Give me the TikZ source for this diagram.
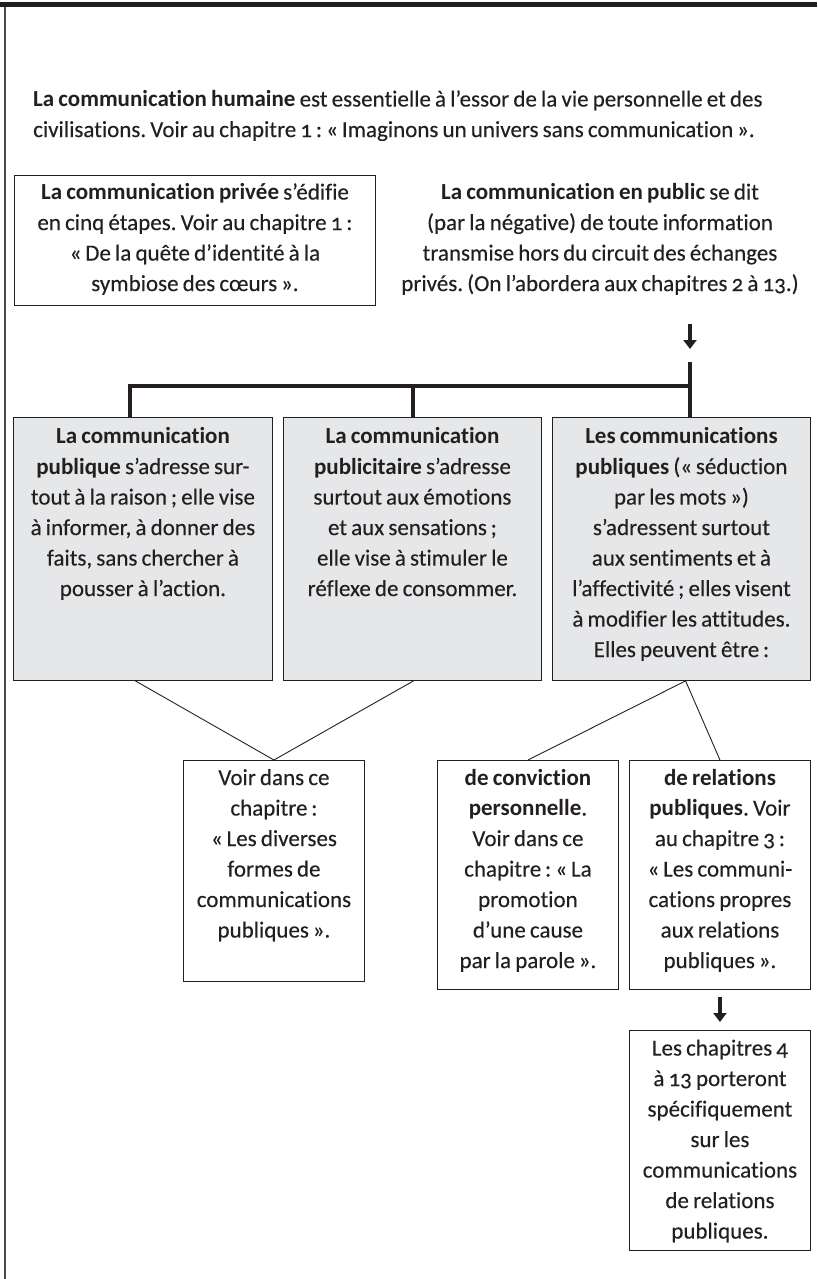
\documentclass[tikz,border=0pt]{standalone}
\usepackage{fontspec}
\setmainfont{Carlito}[Numbers=OldStyle, Ligatures=NoCommon, WordSpace=0.8,
  UprightFeatures={FakeBold=0.25}]
\usetikzlibrary{arrows.meta,calc}
\definecolor{ink}{HTML}{231F20}
\definecolor{boxgray}{HTML}{E6E7E8}
\definecolor{rule}{HTML}{4A4A4A}
\frenchspacing
\begin{document}
\begin{tikzpicture}[x=1pt,y=-1pt,
  every node/.style={font=\fontsize{23}{30.5}\selectfont, text=ink, inner sep=0pt},
  frame/.style={draw=ink, line width=0.9pt, anchor=north west},
  graybox/.style={frame, fill=boxgray},
  boxtext/.style={anchor=north, align=center},
  branch/.style={draw=ink, line width=4pt},
  link/.style={draw=ink, line width=0.9pt},
  downarrow/.style={draw=ink, line width=3.2pt, -{Triangle[length=9pt,width=13pt]}}
]
\useasboundingbox (0,0) rectangle (817,1279);
% page frame: heavy rule on top, thin rule on the left
\fill[ink] (0,2) rectangle (817,7);
\draw[rule, line width=1.6pt] (5,7) -- (5,1279);

% introduction
\node[anchor=north west, align=left] (intro) at (33,85)
  {\strut\textbf{La communication humaine} est essentielle à l’essor de la vie personnelle et des\\
   civilisations. Voir au chapitre 1\,: «\,Imaginons un univers sans communication\,».};

% private communication
\node[frame, minimum width=361, minimum height=130] (priv) at (14,175) {};
\node[boxtext] (privt) at ([yshift=-3pt]priv.north)
  {\strut\textbf{La communication privée} s’édifie\\
   en cinq étapes. Voir au chapitre 1\,:\\
   «\,De la quête d’identité à la\\
   symbiose des cœurs\,».};

% communication in public
\node[boxtext] (pub) at (600,178)
  {\strut\textbf{La communication en public} se dit\\
   (par la négative) de toute information\\
   transmise hors du circuit des échanges\\
   privés. (On l’abordera aux chapitres 2 à 13.)};

\coordinate (a1s) at (690,324);
\coordinate (a1e) at (690,349);
\draw[downarrow] (a1s) -- (a1e);

% three kinds of public communication
\node[graybox, minimum width=259, minimum height=263] (g1) at (13,417) {};
\node[graybox, minimum width=258, minimum height=263] (g2) at (283,417) {};
\node[graybox, minimum width=258, minimum height=263] (g3) at (552,417) {};

\node[boxtext] (g1t) at ([yshift=-5pt]g1.north)
  {\strut\textbf{La communication}\\
   \textbf{publique} s’adresse sur-\\
   tout à la raison\,; elle vise\\
   à informer, à donner des\\
   faits, sans chercher à\\
   pousser à l’action.};
\node[boxtext] (g2t) at ([yshift=-5pt]g2.north)
  {\strut\textbf{La communication}\\
   \textbf{publicitaire} s’adresse\\
   surtout aux émotions\\
   et aux sensations\,;\\
   elle vise à stimuler le\\
   réflexe de consommer.};
\node[boxtext] (g3t) at ([yshift=-5pt]g3.north)
  {\strut\textbf{Les communications}\\
   \textbf{publiques} («\,séduction\\
   par les mots\,»)\\
   s’adressent surtout\\
   aux sentiments et à\\
   l’affectivité\,; elles visent\\
   à modifier les attitudes.\\
   Elles peuvent être\,:};

% branching rule
\coordinate (trunk) at (690,362);
\coordinate (j3) at (690,386);
\coordinate (j1) at (130,386);
\coordinate (j2) at (413,386);
\draw[branch] (trunk) -- (trunk |- g3.north);
\draw[branch] (j1 |- g1.north) -- (j1) -- (j3);
\draw[branch] (j2) -- (j2 |- g2.north);

% lower boxes
\node[frame, minimum width=181, minimum height=221] (see) at (183,760) {};
\node[frame, minimum width=181, minimum height=229] (conv) at (437,760) {};
\node[frame, minimum width=181, minimum height=229] (rel) at (629,760) {};

\node[boxtext] (seet) at ([yshift=-3.5pt]see.north)
  {\strut Voir dans ce\\
   chapitre\,:\\
   «\,Les diverses\\
   formes de\\
   communications\\
   publiques\,».};
\node[boxtext] (convt) at ([yshift=-3.5pt]conv.north)
  {\strut\textbf{de conviction}\\
   \textbf{personnelle}.\\
   Voir dans ce\\
   chapitre\,: «\,La\\
   promotion\\
   d’une cause\\
   par la parole\,».};
\node[boxtext] (relt) at ([yshift=-3.5pt]rel.north)
  {\strut\textbf{de relations}\\
   \textbf{publiques}. Voir\\
   au chapitre 3\,:\\
   «\,Les communi-\\
   cations propres\\
   aux relations\\
   publiques\,».};

\draw[link] ($(g1.south west)!0.471!(g1.south east)$) -- (see.north)
            -- ($(g2.south west)!0.504!(g2.south east)$);
\draw[link] (conv.north) -- ($(g3.south west)!0.516!(g3.south east)$) -- (rel.north);

% final box
\node[frame, minimum width=181, minimum height=220] (fin) at (629,1030) {};
\node[boxtext] (fint) at ([yshift=-4pt]fin.north)
  {\strut Les chapitres 4\\
   à 13 porteront\\
   spécifiquement\\
   sur les\\
   communications\\
   de relations\\
   publiques.};
\draw[downarrow] ([yshift=-7pt]rel.south) -- ([yshift=8pt]fin.north);
\end{tikzpicture}
\end{document}
